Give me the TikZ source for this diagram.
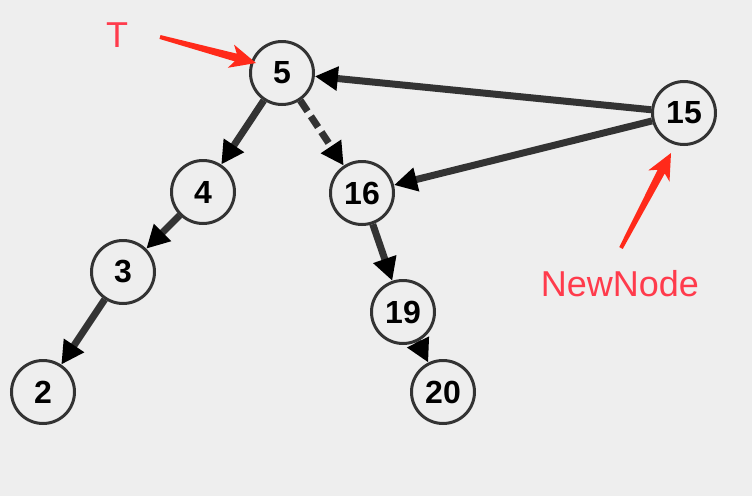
\documentclass[tikz,border=0pt]{standalone}
\usepackage{fontspec}
\setmainfont{Liberation Sans}
\usetikzlibrary{arrows.meta,calc}
\definecolor{bg}{HTML}{EEEEEE}
\definecolor{edgegray}{HTML}{333333}
\definecolor{labelred}{HTML}{FF3B4C}
\definecolor{pointerred}{HTML}{FF2A1A}

% tapered annotation arrow from #1 (tail) to #2 (tip)
\newcommand\pointer[2]{%
  \fill[pointerred]
    ($(#1)!2pt!90:(#2)$) --
    ($(#2)!21pt!(#1)!4pt!-90:(#1)$) --
    ($(#2)!26pt!(#1)!12pt!-90:(#1)$) --
    (#2) --
    ($(#2)!26pt!(#1)!12pt!90:(#1)$) --
    ($(#2)!21pt!(#1)!4pt!90:(#1)$) --
    ($(#1)!2pt!-90:(#2)$) -- cycle;}

\begin{document}
\begin{tikzpicture}[x=1pt,y=-1pt,
  key/.style={circle,draw=edgegray,line width=3pt,fill=bg,minimum size=63pt,
    inner sep=0pt,font=\fontsize{32}{32}\selectfont\bfseries},
  link/.style={draw=edgegray,line width=7pt,
    -{Triangle[length=23pt,width=23pt,color=black]}},
  tag/.style={text=labelred,font=\fontsize{36}{36}\selectfont}]
\fill[bg] (0,0) rectangle (752,496);
\useasboundingbox (0,0) rectangle (752,496);

% tree nodes
\node[key] (n5)  at (282,73)  {5};
\node[key] (n15) at (684,113) {15};
\node[key] (n4)  at (203,192) {4};
\node[key] (n16) at (362,193) {16};
\node[key] (n3)  at (123,272) {3};
\node[key] (n2)  at (43,392)  {2};
\node[key] (n19) at (403,312) {19};
\node[key] (n20) at (443,392) {20};

% links
\draw[link] (n5) -- (n4);
\draw[link,dash pattern=on 13pt off 6pt] (n5) -- (n16);
\draw[link] (n4) -- (n3);
\draw[link] (n3) -- (n2);
\draw[link] (n16) -- (n19);
\draw[link] (n19) -- (n20);
\draw[link] (n15) -- (n5);
\draw[link] (n15) -- (n16);

% annotations
\node[tag] (tlabel) at (117,35) {T};
\node[tag] (nlabel) at (620,284) {NewNode};
\coordinate (tTail) at (160,37);
\coordinate (tTip)  at (256,63);
\coordinate (nTail) at (621,248);
\coordinate (nTip)  at (671,153);
\pointer{tTail}{tTip}
\pointer{nTail}{nTip}
\end{tikzpicture}
\end{document}
